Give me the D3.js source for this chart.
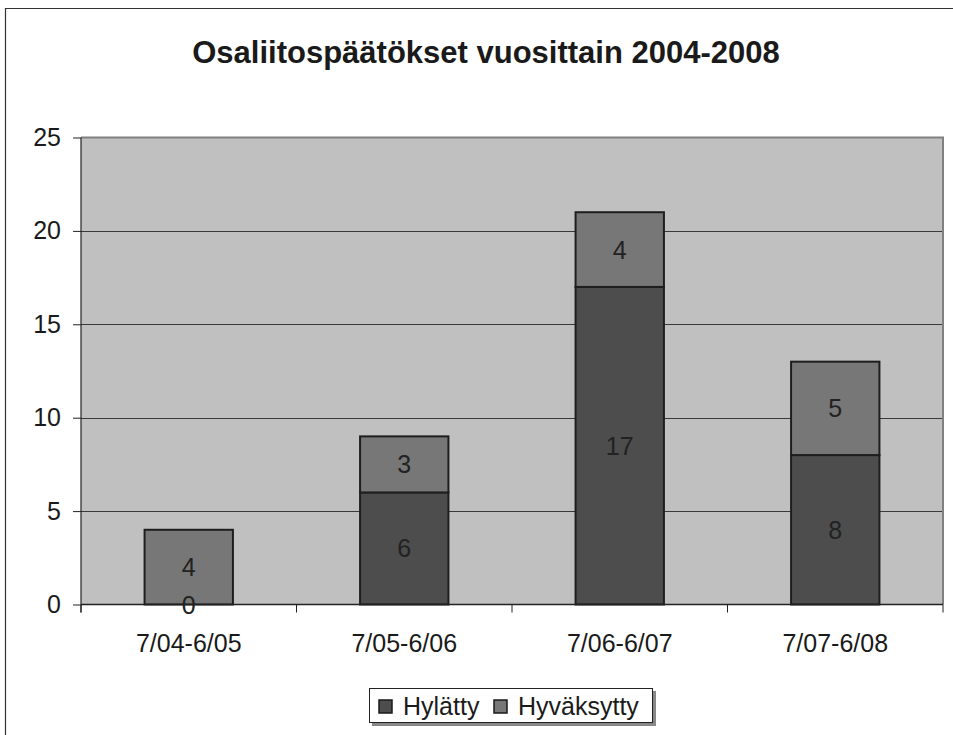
<!DOCTYPE html>
<html>
<head>
<meta charset="utf-8">
<script src="https://cdn.jsdelivr.net/npm/d3@7"></script>
<style>
  html, body { margin: 0; padding: 0; background: #fff; }
  svg { display: block; font-family: "Liberation Sans", Arial, sans-serif; }
</style>
</head>
<body>
<svg id="chart" width="953" height="735"></svg>
<script>
const title = "Osaliitospäätökset vuosittain 2004-2008";
const categories = ["7/04-6/05", "7/05-6/06", "7/06-6/07", "7/07-6/08"];
const seriesNames = ["Hylätty", "Hyväksytty"];
const hylatty = [0, 6, 17, 8];
const hyvaksytty = [4, 3, 4, 5];
const yTicks = [0, 5, 10, 15, 20, 25];
const colors = ["#4d4d4d", "#777777"];

const svg = d3.select("#chart");
const FS = 25;

// outer frame (extends past right/bottom edge)
svg.append("path")
  .attr("d", "M5.5,735 L5.5,8.5 L953,8.5")
  .attr("fill", "none").attr("stroke", "#333").attr("stroke-width", 1.2);

// title
svg.append("text")
  .attr("x", 486).attr("y", 63)
  .attr("text-anchor", "middle")
  .attr("font-weight", "bold")
  .attr("font-size", 31)
  .attr("fill", "#1a1a1a")
  .text(title);

const plot = { left: 81, right: 943, top: 137.5, bottom: 604.5 };

const x = d3.scaleBand().domain(categories).range([plot.left, plot.right]).paddingInner(0.59).paddingOuter(0.295);
const xb = d3.scaleBand().domain(categories).range([plot.left, plot.right]);
const y = d3.scaleLinear().domain([0, 25]).range([plot.bottom, plot.top]);

// plot background
svg.append("rect")
  .attr("x", plot.left).attr("y", plot.top)
  .attr("width", plot.right - plot.left).attr("height", plot.bottom - plot.top)
  .attr("fill", "#c0c0c0");

// gridlines
svg.append("g").selectAll("line").data(yTicks.filter(d => d > 0 && d < 25)).join("line")
  .attr("x1", plot.left).attr("x2", plot.right)
  .attr("y1", d => Math.round(y(d)) + 0.5).attr("y2", d => Math.round(y(d)) + 0.5)
  .attr("stroke", "#3a3a3a").attr("stroke-width", 1);

// plot border top/right
svg.append("path")
  .attr("d", `M${plot.left},${plot.top} L${plot.right},${plot.top} L${plot.right},${plot.bottom}`)
  .attr("fill", "none").attr("stroke", "#808080").attr("stroke-width", 2);

// stacked bars
const rows = categories.map((c, i) => ({ cat: c, Hylätty: hylatty[i], Hyväksytty: hyvaksytty[i] }));
const stack = d3.stack().keys(seriesNames)(rows);

const gBars = svg.append("g");
stack.forEach((layer, si) => {
  gBars.append("g").selectAll("rect").data(layer).join("rect")
    .attr("x", d => x(d.data.cat))
    .attr("width", x.bandwidth())
    .attr("y", d => y(d[1]))
    .attr("height", d => y(d[0]) - y(d[1]))
    .attr("fill", colors[si])
    .attr("stroke", "#1e1e1e").attr("stroke-width", 2);
});

// value labels
stack.forEach((layer, si) => {
  gBars.append("g").selectAll("text").data(layer).join("text")
    .attr("x", d => x(d.data.cat) + x.bandwidth() / 2)
    .attr("y", d => (y(d[0]) + y(d[1])) / 2)
    .attr("dy", "0.36em")
    .attr("text-anchor", "middle")
    .attr("font-size", FS)
    .attr("fill", "#222")
    .text((d, i) => (si === 0 ? hylatty[i] : hyvaksytty[i]));
});

// y axis
const yAxis = d3.axisLeft(y).tickValues(yTicks).tickSize(8).tickPadding(12);
const gy = svg.append("g").attr("transform", `translate(${plot.left},0)`).call(yAxis);
gy.select(".domain").remove();
gy.selectAll(".tick line").attr("stroke", "#222");
gy.selectAll(".tick text").attr("font-size", FS).attr("fill", "#1a1a1a").attr("font-family", "Liberation Sans, Arial, sans-serif");
svg.append("line").attr("x1", plot.left).attr("x2", plot.left).attr("y1", plot.top).attr("y2", plot.bottom + 8)
  .attr("stroke", "#222").attr("stroke-width", 1.2);

// x axis
const xAxisG = svg.append("g").attr("transform", `translate(0,${plot.bottom})`);
xAxisG.append("line").attr("x1", plot.left).attr("x2", plot.right).attr("y1", 0).attr("y2", 0)
  .attr("stroke", "#222").attr("stroke-width", 1.5);
const boundaries = categories.map(c => xb(c)).concat([plot.right]);
xAxisG.selectAll("line.tk").data(boundaries).join("line").attr("class", "tk")
  .attr("x1", d => d).attr("x2", d => d).attr("y1", 0).attr("y2", 8)
  .attr("stroke", "#222");
xAxisG.selectAll("text").data(categories).join("text")
  .attr("x", d => xb(d) + xb.bandwidth() / 2)
  .attr("y", 47)
  .attr("text-anchor", "middle")
  .attr("font-size", FS)
  .attr("fill", "#1a1a1a")
  .text(d => d);

// legend
const leg = svg.append("g");
leg.append("rect").attr("x", 372).attr("y", 691).attr("width", 284).attr("height", 35).attr("fill", "#888");
leg.append("rect").attr("x", 369.5).attr("y", 688.5).attr("width", 283).attr("height", 34)
  .attr("fill", "#fff").attr("stroke", "#222").attr("stroke-width", 1);
const legX = [379, 494];
seriesNames.forEach((s, i) => {
  leg.append("rect").attr("x", legX[i]).attr("y", 700).attr("width", 13).attr("height", 13)
    .attr("fill", colors[i]).attr("stroke", "#1a1a1a").attr("stroke-width", 1.5);
  leg.append("text").attr("x", legX[i] + 24).attr("y", 715).attr("font-size", FS).attr("fill", "#1a1a1a").text(s);
});
</script>
</body>
</html>
